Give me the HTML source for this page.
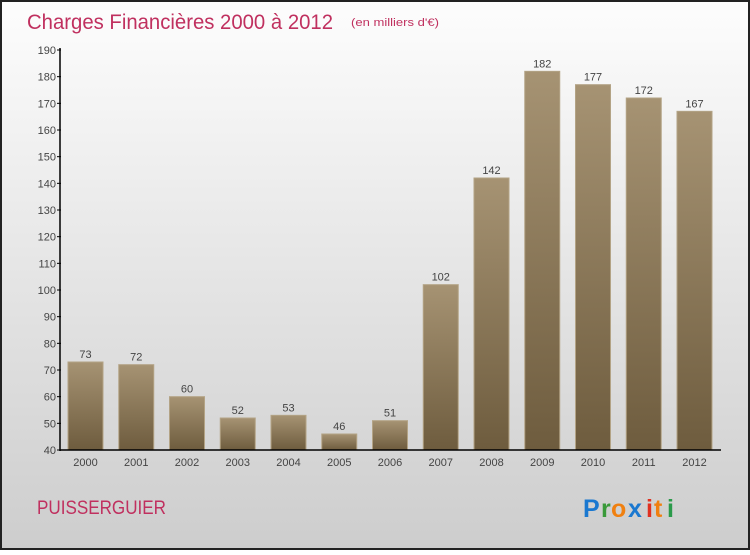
<!DOCTYPE html>
<html><head><meta charset="utf-8"><style>
body{margin:0;width:750px;height:550px;overflow:hidden;font-family:"Liberation Sans",sans-serif}
</style></head><body>
<svg id="chart" width="750" height="550" xmlns="http://www.w3.org/2000/svg">
<defs>
<linearGradient id="bg" x1="0" y1="0" x2="0" y2="1"><stop offset="0" stop-color="#fdfdfd"/><stop offset="1" stop-color="#cdcdcd"/></linearGradient>
<linearGradient id="bar" x1="0" y1="0" x2="0" y2="1"><stop offset="0" stop-color="#a69373"/><stop offset="1" stop-color="#6e5c3e"/></linearGradient>
</defs>
<rect x="1" y="1" width="748" height="548" fill="url(#bg)" stroke="#222" stroke-width="2"/>
<text x="27" y="29" font-size="21" fill="#c0305f" textLength="306" lengthAdjust="spacingAndGlyphs">Charges Financières 2000 à 2012</text>
<text x="351" y="26" font-size="11" fill="#c0305f" textLength="88" lengthAdjust="spacingAndGlyphs">(en milliers d'€)</text>
<text x="37" y="514" font-size="19" fill="#c0305f" textLength="129" lengthAdjust="spacingAndGlyphs">PUISSERGUIER</text>
<g font-size="25" font-weight="bold" font-family="'Liberation Sans',sans-serif">
<text x="583" y="517" fill="#1a78d0">P</text><text x="601" y="517" fill="#3a9a3a">r</text><text x="611" y="517" fill="#f08010">o</text><text x="628" y="517" fill="#1a78d0">x</text><text x="646" y="517" fill="#e03020">i</text><text x="654" y="517" fill="#f08010">t</text><text x="667" y="517" fill="#2a9a4a">i</text>
</g>
<g id="plot"></g>
</svg>
<script>
const years=["2000","2001","2002","2003","2004","2005","2006","2007","2008","2009","2010","2011","2012"];
const values=[73,72,60,52,53,46,51,102,142,182,177,172,167];
const ticks=[40,50,60,70,80,90,100,110,120,130,140,150,160,170,180,190];
const NS="http://www.w3.org/2000/svg";
const g=document.getElementById('plot');
const y=v=>450-(v-40)*400/150;
const xc=i=>85.5+i*50.75;
function mk(t,a,txt){const e=document.createElementNS(NS,t);for(const k in a)e.setAttribute(k,a[k]);if(txt!=null)e.textContent=txt;g.appendChild(e);return e;}
ticks.forEach(t=>{
 const l=mk('line',{x1:57,x2:61,y1:y(t),y2:y(t),stroke:'#000'});
 
 
 const tx=mk('text',{x:56,y:y(t)+4,'text-anchor':'end','font-size':11,fill:'#444'},t);
 
 
});
values.forEach((v,i)=>{
 const r=mk('rect',{x:xc(i)-17.5,y:y(v),width:35,height:450-y(v),fill:'url(#bar)',stroke:'#b3a385','stroke-width':1});
 
 
 const vl=mk('text',{x:xc(i),y:y(v)-4,'text-anchor':'middle','font-size':11,fill:'#444'},v);
 
 
 const xl=mk('text',{x:xc(i),y:466,'text-anchor':'middle','font-size':11,fill:'#444'},years[i]);
 
 
});
const ya=mk('line',{x1:60,x2:60,y1:48,y2:451,stroke:'#000','stroke-width':1.5});


const xa=mk('line',{x1:60,x2:721,y1:450,y2:450,stroke:'#000','stroke-width':1.5});


</script>
</body></html>
